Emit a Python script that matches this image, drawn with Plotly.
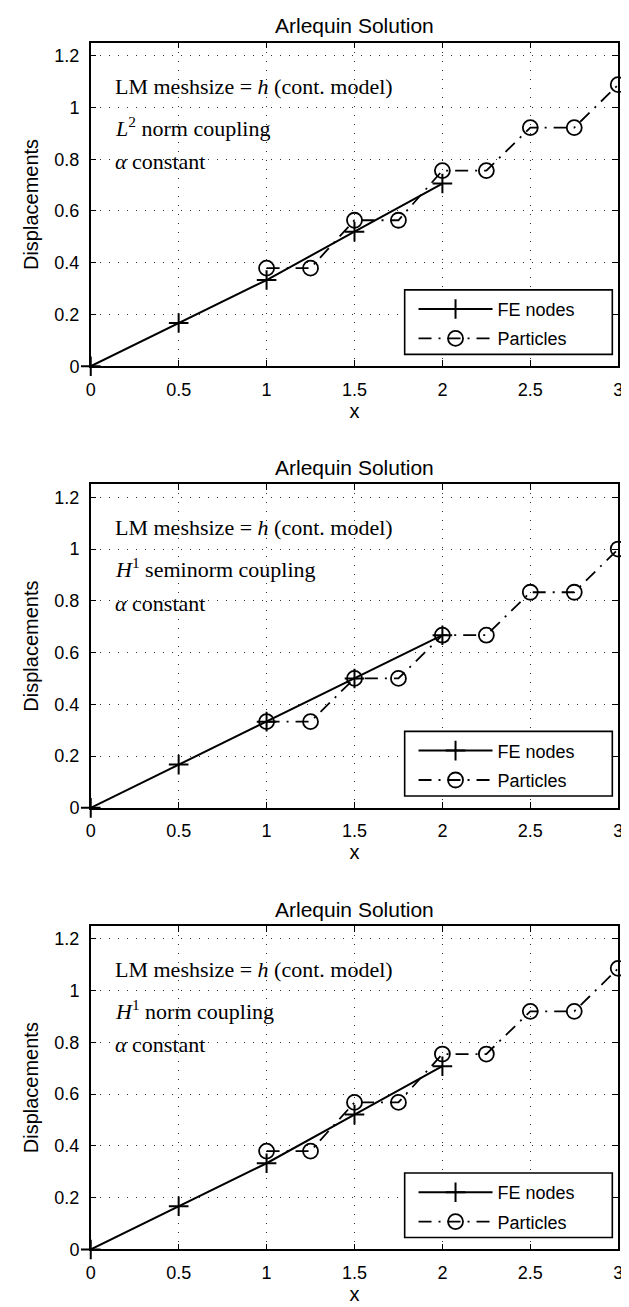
import plotly.graph_objects as go

# ---------------- data ----------------
x_fe = [0, 0.5, 1, 1.5, 2]
fe_L2 = [0, 0.167, 0.333, 0.52, 0.706]
fe_H1semi = [0, 0.167, 0.333, 0.5, 0.667]
fe_H1 = [0, 0.167, 0.333, 0.521, 0.708]

x_part = [1, 1.25, 1.5, 1.75, 2, 2.25, 2.5, 2.75, 3]
part_L2 = [0.379, 0.379, 0.564, 0.564, 0.756, 0.756, 0.922, 0.922, 1.088]
part_H1semi = [0.333, 0.333, 0.5, 0.5, 0.667, 0.667, 0.833, 0.833, 1.0]
part_H1 = [0.38, 0.38, 0.568, 0.568, 0.755, 0.755, 0.92, 0.92, 1.086]

titles = ["Arlequin Solution", "Arlequin Solution", "Arlequin Solution"]
coupling_labels = ["<i>L</i><sup>2</sup> norm coupling",
                   "<i>H</i><sup>1</sup> seminorm coupling",
                   "<i>H</i><sup>1</sup> norm coupling"]
line1 = "LM meshsize = <i>h</i> (cont. model)"
line3 = "<i>α</i> constant"
x_ticks = [0, 0.5, 1, 1.5, 2, 2.5, 3]
x_ticktext = ["0", "0.5", "1", "1.5", "2", "2.5", "3"]
y_ticks = [0, 0.2, 0.4, 0.6, 0.8, 1.0, 1.2]
y_ticktext = ["0", "0.2", "0.4", "0.6", "0.8", "1", "1.2"]

fe_sets = [fe_L2, fe_H1semi, fe_H1]
part_sets = [part_L2, part_H1semi, part_H1]

# ---------------- layout geometry (pixels) ----------------
W, H = 629, 1307
pitch = 445
frame_top0, frame_bot0 = 35, 361
x_left, x_right = 79, 615
leg_left, leg_right = 398, 609
leg_top0, leg_bot0 = 284, 349
ITEMW = 74

SANS = "Liberation Sans, Arial, sans-serif"
SERIF = "Liberation Serif, Times New Roman, serif"

fig = go.Figure()
layout_upd = {}
annotations = []
shapes = []
for k in range(3):
    sfx = "" if k == 0 else str(k + 1)
    xa = "x" + sfx
    ya = "y" + sfx
    leg = "legend" if k == 0 else "legend" + str(k + 1)
    off = pitch * k
    top = frame_top0 + off
    bot = frame_bot0 + off

    fig.add_trace(go.Scatter(
        x=x_fe, y=fe_sets[k], xaxis=xa, yaxis=ya, name="FE nodes",
        mode="lines+markers", legend=leg, legendgroup="fe%d" % k,
        cliponaxis=False,
        line=dict(color="black", width=2),
        marker=dict(symbol="cross-thin-open", size=14, color="black",
                    line=dict(color="black", width=2)),
    ))
    fig.add_trace(go.Scatter(
        x=x_part, y=part_sets[k], xaxis=xa, yaxis=ya, name="Particles",
        mode="lines+markers", legend=leg, legendgroup="p%d" % k,
        cliponaxis=False,
        line=dict(color="black", width=1.8, dash="13px,7px,2px,7px"),
        marker=dict(symbol="circle-open", size=15, color="black",
                    line=dict(color="black", width=1.8)),
    ))

    axis_common = dict(
        showline=True, linecolor="black", linewidth=1.5, mirror="ticks",
        ticks="inside", ticklen=6, tickcolor="black", tickwidth=1.2,
        showgrid=True, gridcolor="#333333", gridwidth=1, griddash="1px,8px",
        zeroline=False, tickfont=dict(family=SANS, size=18, color="black"),
        ticklabelstandoff=6,
    )
    layout_upd["xaxis" + sfx] = dict(
        axis_common, domain=[x_left / W, x_right / W], range=[0, 3],
        tickvals=x_ticks, ticktext=x_ticktext, anchor=ya,
        title=dict(text="x", font=dict(family=SANS, size=20, color="black"), standoff=2),
    )
    layout_upd["yaxis" + sfx] = dict(
        axis_common, domain=[1 - bot / H, 1 - top / H], range=[0, 1.25],
        tickvals=y_ticks, ticktext=y_ticktext, anchor=xa,
        title=dict(text="Displacements", font=dict(family=SANS, size=20, color="black"), standoff=10),
    )
    # legend: box drawn as a rectangle, entries placed inside
    layout_upd[leg] = dict(
        x=(412 - 5) / W, xanchor="left",
        y=1 - (leg_top0 + off + 1) / H, yanchor="top",
        bgcolor="rgba(0,0,0,0)", borderwidth=0,
        font=dict(family=SANS, size=18, color="black"),
        itemwidth=ITEMW, tracegroupgap=3, traceorder="grouped",
    )
    shapes.append(dict(
        type="rect", xref="paper", yref="paper", layer="above",
        x0=leg_left / W, x1=leg_right / W,
        y0=1 - (leg_bot0 + off) / H, y1=1 - (leg_top0 + off) / H,
        fillcolor="white", line=dict(color="black", width=1.6),
    ))
    annotations.append(dict(
        text=titles[k], xref="paper", yref="paper",
        x=(x_left + x_right) / 2 / W, y=1 - (18 + off) / H,
        xanchor="center", yanchor="middle", showarrow=False,
        font=dict(family=SANS, size=21, color="black"),
    ))
    for txt, yy in [(line1, 1.082), (coupling_labels[k], 0.925), (line3, 0.79)]:
        annotations.append(dict(
            text=txt, xref=xa, yref=ya, x=0.128, y=yy,
            xanchor="left", yanchor="middle", showarrow=False,
            font=dict(family=SERIF, size=22, color="black"),
        ))

fig.update_layout(
    width=W, height=H,
    margin=dict(l=0, r=0, t=0, b=0),
    paper_bgcolor="white", plot_bgcolor="white",
    annotations=annotations, shapes=shapes,
    **layout_upd,
)

fig.write_html("out.html")
